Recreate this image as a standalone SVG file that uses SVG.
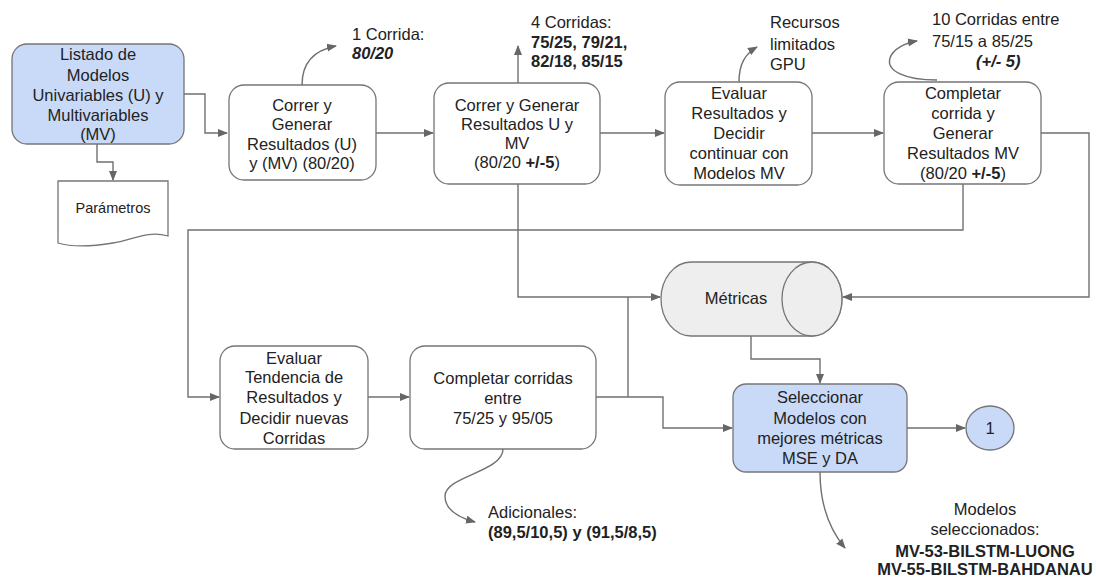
<svg xmlns="http://www.w3.org/2000/svg" width="1096" height="580" viewBox="0 0 1096 580">
<defs>
<style>
.box{fill:#ffffff;stroke:#757575;stroke-width:1.3}
.blue{fill:#c9daf8;stroke:#757575;stroke-width:1.3}
.gray{fill:#eeeeee;stroke:#757575;stroke-width:1.3}
.ln{fill:none;stroke:#707070;stroke-width:1.4}
.t{font-family:"Liberation Sans",Arial,sans-serif;font-size:16.5px;fill:#222;text-anchor:middle}
.l{font-family:"Liberation Sans",Arial,sans-serif;font-size:16.5px;fill:#222}
.b{font-weight:bold}
.bi{font-weight:bold;font-style:italic}
</style>
<marker id="ah" viewBox="0 0 10 10" refX="9" refY="5" markerWidth="10" markerHeight="10" markerUnits="userSpaceOnUse" orient="auto">
<path d="M0,1 L10,5 L0,9 Z" fill="#666"/>
</marker>
</defs>
<rect width="1096" height="580" fill="#ffffff"/>

<g id="connectors">
<path class="ln" d="M184,94 H205 V133 H227" marker-end="url(#ah)"/>
<path class="ln" d="M97,144 V162 H113 V180" marker-end="url(#ah)"/>
<path class="ln" d="M376,133 H433" marker-end="url(#ah)"/>
<path class="ln" d="M600,133 H664" marker-end="url(#ah)"/>
<path class="ln" d="M812,133 H883" marker-end="url(#ah)"/>
<path class="ln" d="M1041,133 H1089 V297 H843" marker-end="url(#ah)"/>
<path class="ln" d="M963,184 V230 H188 V397 H219" marker-end="url(#ah)"/>
<path class="ln" d="M518,184 V297 H660" marker-end="url(#ah)"/>
<path class="ln" d="M368,397 H409" marker-end="url(#ah)"/>
<path class="ln" d="M596,397 H663 V428 H732" marker-end="url(#ah)"/>
<path class="ln" d="M628,397 V297"/>
<path class="ln" d="M751,336 V359 H820 V383" marker-end="url(#ah)"/>
<path class="ln" d="M907,428 H965" marker-end="url(#ah)"/>
<path class="ln" d="M518,83 V46" marker-end="url(#ah)"/>
<path class="ln" d="M302,85 C302,62 315,50 336,46" marker-end="url(#ah)"/>
<path class="ln" d="M739,82 C739,64 745,54 757,47" marker-end="url(#ah)"/>
<path class="ln" d="M937,80 C905,80 886,71 890,58 C893,49 905,43 917,41" marker-end="url(#ah)"/>
<path class="ln" d="M503,449 C503,472 445,476 445,496 C445,510 460,518 475,522" marker-end="url(#ah)"/>
<path class="ln" d="M820,472 C820,505 830,530 845,548" marker-end="url(#ah)"/>
</g>

<g id="n1">
<rect class="blue" x="12" y="44" width="172" height="100" rx="15"/>
<text class="t" x="98" y="60">Listado de</text>
<text class="t" x="98" y="81">Modelos</text>
<text class="t" x="98" y="101">Univariables (U) y</text>
<text class="t" x="98" y="121">Multivariables</text>
<text class="t" x="98" y="140">(MV)</text>
</g>

<g id="parametros">
<path class="box" d="M58,181 H168 V236 C148,230 132,240 113,243 C95,246 75,248 58,243 Z"/>
<text class="t" x="113" y="213" style="font-size:14.5px">Parámetros</text>
</g>

<g id="n2">
<rect class="box" x="229" y="85" width="147" height="95" rx="15"/>
<text class="t" x="302" y="111">Correr y</text>
<text class="t" x="302" y="130">Generar</text>
<text class="t" x="302" y="150">Resultados (U)</text>
<text class="t" x="302" y="169">y (MV) (80/20)</text>
</g>

<g id="n3">
<rect class="box" x="434" y="83" width="166" height="101" rx="15"/>
<text class="t" x="517" y="111">Correr y Generar</text>
<text class="t" x="517" y="130">Resultados U y</text>
<text class="t" x="517" y="149">MV</text>
<text class="t" x="517" y="168">(80/20 <tspan class="b">+/-5</tspan>)</text>
</g>

<g id="n4">
<rect class="box" x="665" y="82" width="147" height="103" rx="15"/>
<text class="t" x="739" y="99">Evaluar</text>
<text class="t" x="739" y="119">Resultados y</text>
<text class="t" x="739" y="139">Decidir</text>
<text class="t" x="739" y="159">continuar con</text>
<text class="t" x="739" y="179">Modelos MV</text>
</g>

<g id="n5">
<rect class="box" x="884" y="82" width="157" height="102" rx="15"/>
<text class="t" x="963" y="99">Completar</text>
<text class="t" x="963" y="119">corrida y</text>
<text class="t" x="963" y="139">Generar</text>
<text class="t" x="963" y="159">Resultados MV</text>
<text class="t" x="963" y="179">(80/20 <tspan class="b">+/-5</tspan>)</text>
</g>

<g id="metricas">
<path class="gray" d="M691,262 H812 A30,37 0 0 1 812,336 H691 A30,37 0 0 1 691,262 Z"/>
<ellipse class="gray" cx="812" cy="299" rx="30" ry="37"/>
<text class="t" x="736" y="304">Métricas</text>
</g>

<g id="n6">
<rect class="box" x="220" y="346" width="148" height="103" rx="15"/>
<text class="t" x="294" y="364">Evaluar</text>
<text class="t" x="294" y="383">Tendencia de</text>
<text class="t" x="294" y="403">Resultados y</text>
<text class="t" x="294" y="424">Decidir nuevas</text>
<text class="t" x="294" y="444">Corridas</text>
</g>

<g id="n7">
<rect class="box" x="410" y="346" width="186" height="103" rx="15"/>
<text class="t" x="503" y="384">Completar corridas</text>
<text class="t" x="503" y="404">entre</text>
<text class="t" x="503" y="424">75/25 y 95/05</text>
</g>

<g id="n8">
<rect class="blue" x="733" y="384" width="174" height="88" rx="13"/>
<text class="t" x="820" y="403">Seleccionar</text>
<text class="t" x="820" y="424">Modelos con</text>
<text class="t" x="820" y="444">mejores métricas</text>
<text class="t" x="820" y="464">MSE y DA</text>
</g>

<g id="c1">
<ellipse class="blue" cx="990" cy="428" rx="24" ry="22"/>
<text class="t" x="990" y="434">1</text>
</g>

<g id="labels">
<text class="l" x="352" y="40">1 Corrida:</text>
<text class="l bi" x="352" y="59">80/20</text>
<text class="l" x="531" y="28">4 Corridas:</text>
<text class="l b" x="531" y="48">75/25, 79/21,</text>
<text class="l b" x="531" y="67">82/18, 85/15</text>
<text class="l" x="770" y="28">Recursos</text>
<text class="l" x="770" y="50">limitados</text>
<text class="l" x="770" y="70">GPU</text>
<text class="l" x="932" y="25">10 Corridas entre</text>
<text class="l" x="932" y="47">75/15 a 85/25</text>
<text class="l bi" x="976" y="67">(+/- 5)</text>
<text class="l" x="488" y="518">Adicionales:</text>
<text class="l b" x="488" y="538">(89,5/10,5) y (91,5/8,5)</text>
<text class="t" x="985" y="515">Modelos</text>
<text class="t" x="985" y="535">seleccionados:</text>
<text class="t b" x="985" y="557">MV-53-BILSTM-LUONG</text>
<text class="t b" x="985" y="575">MV-55-BILSTM-BAHDANAU</text>
</g>
</svg>
